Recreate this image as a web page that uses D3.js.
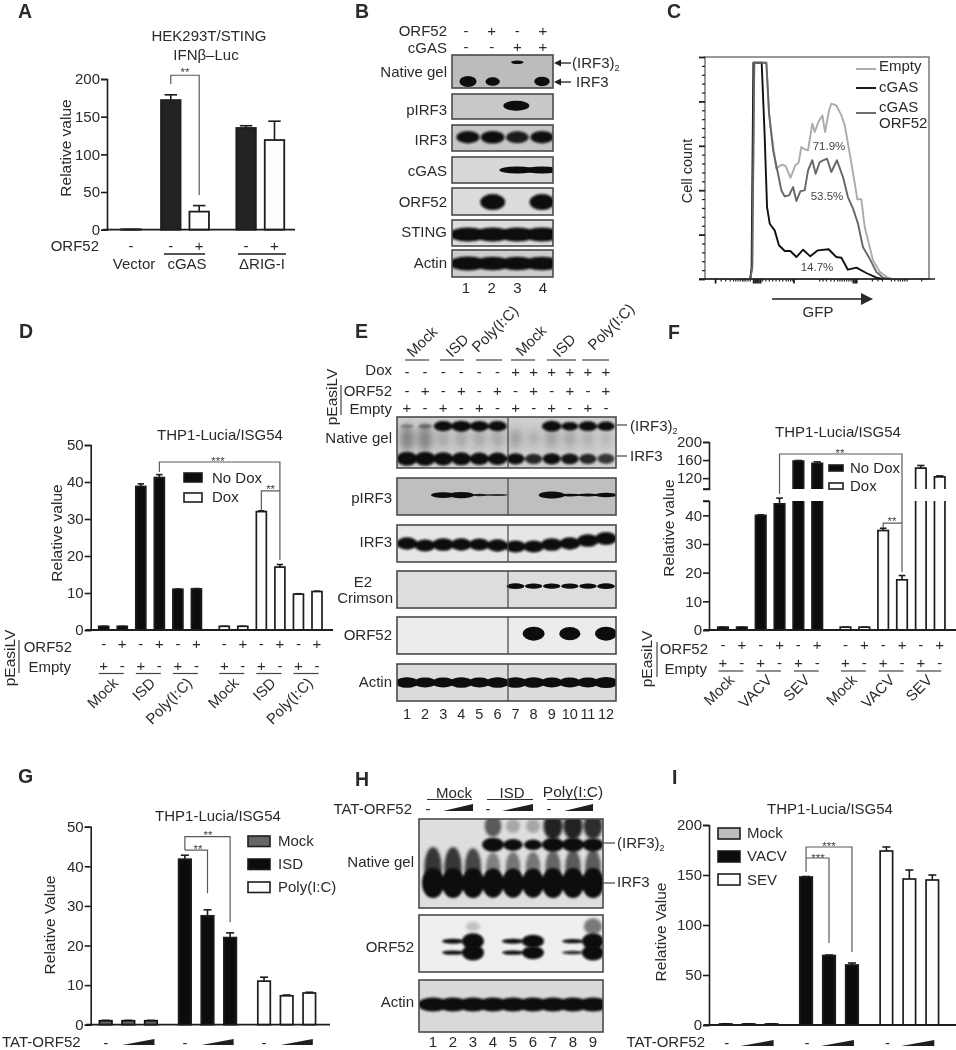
<!DOCTYPE html>
<html><head><meta charset="utf-8">
<script src="https://cdn.jsdelivr.net/npm/d3@7/dist/d3.min.js"></script>
<style>
html,body{margin:0;padding:0;background:#fff}
svg{display:block;filter:blur(0.35px)}
text{font-family:"Liberation Sans",Arial,sans-serif;fill:#2a2a2a}
</style></head><body><svg id="fig" width="956" height="1050" viewBox="0 0 956 1050"></svg>
<script>
// ---------- DATA: bar panels ----------
const aValues=[0.6,172,24,135,119];
const aErrors=[0.2,179,32,138,144];
const aFill=["k","k","w","k","w"];
const aSigns=["-","-","+","-","+"];
const aTicks=[0,50,100,150,200];

const dValues=[1,1,38.8,41.2,11,11.1,1,1,32,17,9.7,10.4];
const dErrors=[1,1,39.5,42,11.1,11.2,1,1,32.2,17.7,9.8,10.5];
const dFill=["k","k","k","k","k","k","w","w","w","w","w","w"];
const orf52Signs=["-","+","-","+","-","+","-","+","-","+","-","+"];
const emptySigns=["+","-","+","-","+","-","+","-","+","-","+","-"];
const dGroups=["Mock","ISD","Poly(I:C)","Mock","ISD","Poly(I:C)"];
const dTicks=[0,10,20,30,40,50];

const fValues=[1,1,40,44,158,153,1,1,34.7,17.5,142,123];
const fErrors=[1,1,40.2,46,159,156,1,1,35.5,19,148,125];
const fGroups=["Mock","VACV","SEV","Mock","VACV","SEV"];
const fTicksLow=[0,10,20,30,40];
const fTicksHigh=[120,160,200];

const gValues=[1,1,1,41.8,27.5,22,11,7.3,8];
const gErrors=[1.1,1.1,1.1,42.8,29,23.2,12,7.5,8.2];
const gFill=["m","m","m","k","k","k","w","w","w"];
const gLegend=["Mock","ISD","Poly(I:C)"];
const iValues=[1,1,1,148,69.5,60,174,146,145];
const iErrors=[1.2,1.2,1.2,148.5,70,62,178,155,150];
const iLegend=["Mock","VACV","SEV"];
const iTicks=[0,50,100,150,200];

// ---------- DATA: flow histogram (x: channel 0-1000, y: % of max) ----------
const cEmptyX=[202,211,220,274,286,301,318,341,360,382,403,418,430,445,460,479,490,506,524,536,554,564,586,609,624,646,664,680,698,713,728,750,780,817,839];
const cEmptyY=[0,5.4,97.4,97.4,74.5,62.5,49.7,51.5,50.9,45.6,51.2,52.4,59.5,58.4,58,70,66.2,70.7,73.7,66.2,76,79,78.2,73.7,69.2,56.5,45.9,35.9,35.9,23.4,17.4,8.4,3.2,0.6,0];
const cOrfX=[202,211,220,274,286,304,326,341,356,375,393,408,426,445,460,479,494,512,530,545,564,589,616,638,661,683,705,735,765,795,824];
const cOrfY=[0,5.4,97.4,97.4,74.5,58,47.4,39.9,37.2,37.7,41.4,35.1,39.6,39.9,48.9,53.5,47.4,52.7,53.5,54.2,48.2,53.5,45.9,36.9,31.7,24.9,14.4,9.2,3.2,0.6,0];
const cGasX=[202,208,216,253,266,277,289,311,330,356,381,408,438,470,504,552,586,609,638,676,720,765,795];
const cGasY=[0,5,97.4,97.4,65.5,32.4,24.9,21.9,15.2,12.6,12.6,9.9,13.2,10.2,12.9,13.4,9.9,9.6,4.2,5.1,2.7,0.6,0];
const cYMajor=[0,20,40,60,80,100];
const cYMinor=[4,8,12,16,24,28,32,36,44,48,52,56,64,68,72,76,84,88,92,96];
const cXMajor=[45,215,222,230,238,246,395,660,668,675];
const cXMinor=[70,90,110,125,135,145,155,165,172,180,190,200,255,270,285,300,315,330,345,360,370,380,390,510,525,540,560,575,590,600,610,620,630,640,650,745,770,790,830,845,860,870,880,890,900,965];

// ---------- DATA: blot band intensities by lane (0-1) ----------
const bLanes=[1,2,3,4];
const bNativeMono=[1,.6,0,.75], bNativeDimer=[0,0,.7,0];
const bPirf3=[0,0,1,0], bIrf3=[.9,.95,.85,.9], bCgas=[0,0,1,1], bOrf52=[0,1,0,1], bSting=[1,1,1,1], bActin=[1,.95,.9,.95];
const eLanes=[1,2,3,4,5,6,7,8,9,10,11,12];
const eDimer=[.15,.2,.85,1,.9,.85,0,0,.95,.6,.8,.7];
const eMono=[1,1,.9,.85,.8,.8,.65,.55,.65,.6,.55,.5];
const eSmear=[.55,.55,.3,.3,.3,.3,.35,.25,.35,.3,.25,.2];
const ePirf3=[0,0,.85,.9,.45,.4,0,0,1,.5,.55,.7];
const eIrf3=[.9,.85,.95,.9,.85,.9,.85,.85,.95,.9,.95,1];
const eIrf3Drift=[0,2,1,1,1,2,3,3,1,0,-3,-5];
const eE2=[0,0,0,0,0,0,1,.9,.9,.9,.9,1];
const eOrf52=[0,0,0,0,0,0,0,1,0,.9,0,1];
const eActin=[.9,.85,.85,.9,.85,.9,.9,.9,.85,.85,.85,1];
const hLanes=[1,2,3,4,5,6,7,8,9];
const hMono=[1,1,1,.95,.95,.95,1,1,1];
const hDimer=[0,0,0,1,.7,.55,1,1,.9];
const hSmear=[.9,.9,.8,.5,.55,.55,.65,.7,.7];
const hTop=[0,0,0,.6,.25,.25,.9,.9,.85];
const hOrfUpper=[0,.55,1,0,.55,.9,0,.5,1];
const hOrfLower=[0,.5,1,0,.5,.9,0,.45,1];
const hOrfFaint=[0,0,.3,0,0,0,0,0,.8];
const hActin=[1,1,1,1,1,1,1,1,1];

// ---------- helpers ----------
const svg=d3.select("#fig");
const INK="#1d1d1d", BR="#5a5a5a";
const defs=svg.append("defs");
[["b05",.5],["b1",1],["b2",1.8],["b4",4]].forEach(([id,s])=>{
  defs.append("filter").attr("id",id).attr("x","-50%").attr("y","-80%").attr("width","200%").attr("height","260%")
    .append("feGaussianBlur").attr("stdDeviation",s);
});
const T=(p,s,x,y,o={})=>{
  const t=p.append("text").attr("x",x).attr("y",y).attr("font-size",o.size||15).attr("text-anchor",o.a||"start").text(s);
  if(o.w)t.attr("font-weight",o.w); if(o.fill)t.style("fill",o.fill);
  if(o.r!==undefined)t.attr("transform",`rotate(${o.r} ${x} ${y})`);
  return t;
};
const L=(p,x1,y1,x2,y2,c=INK,w=1.5)=>p.append("line").attr("x1",x1).attr("y1",y1).attr("x2",x2).attr("y2",y2).attr("stroke",c).attr("stroke-width",w);
const rv=(p,s,x,y,size=15.5)=>T(p,s,x,y,{a:"middle",r:-90,size});
const letter=(s,x,y)=>T(svg,s,x,y,{w:"bold",size:19.5});
const Sub=(p,x,y)=>{const t=p.append("text").attr("x",x).attr("y",y).attr("font-size",15);t.append("tspan").text("(IRF3)");t.append("tspan").attr("dy",3).attr("font-size",9).text("2");};

function slots(groups,gaps){const r=[];let s=0;groups.forEach((n,g)=>{for(let i=0;i<n;i++)r.push(s+i);s+=n-1+1+(gaps[g]||0);});return r;}
const FILL={k:"#0c0c0c",w:"#fdfdfd",m:"#666",K:"#232323",M:"#bdbdbd"};

function bars(p,o){
  const g=p.append("g");
  o.values.forEach((v,i)=>{
    const cx=o.x(o.sl[i]),w=o.bw,f=FILL[o.fill[i]];
    const sw=o.sw||1.7;
    if(o.brk&&v>o.brk.low){
      const yl=o.y(o.brk.low),y0=o.y(0),yh0=o.brk.yH(o.brk.high),yh1=o.brk.yH(v);
      g.append("rect").attr("x",cx-w/2).attr("width",w).attr("y",yl).attr("height",y0-yl).attr("fill",f);
      g.append("rect").attr("x",cx-w/2).attr("width",w).attr("y",yh1).attr("height",yh0-yh1).attr("fill",f);
      g.append("path").attr("fill","none").attr("stroke",INK).attr("stroke-width",sw)
       .attr("d",`M${cx-w/2},${y0}V${yl}M${cx+w/2},${y0}V${yl}M${cx-w/2},${yh0}V${yh1}H${cx+w/2}V${yh0}`);
      const e=o.brk.yH(o.errors[i]);
      L(g,cx,yh1,cx,e,INK,1.6);L(g,cx-w*.35,e,cx+w*.35,e,INK,1.6);
    } else {
      const ev=o.errors[i],ye=o.y(ev),yv=o.y(v);
      L(g,cx,yv,cx,ye,INK,1.6);L(g,cx-w*.32,ye,cx+w*.32,ye,INK,1.6);
      g.append("rect").attr("x",cx-w/2).attr("width",w).attr("y",yv).attr("height",o.y(0)-yv)
       .attr("fill",f).attr("stroke",o.fill[i]=="m"?"#111":INK).attr("stroke-width",sw);
    }
  });
}
function yAxis(p,x,scale,ticks,size=15){
  const g=p.append("g").attr("transform",`translate(${x},0)`).call(d3.axisLeft(scale).tickValues(ticks).tickSize(6).tickPadding(1));
  g.selectAll("path,line").attr("stroke",INK).attr("stroke-width",1.6);
  g.selectAll("text").attr("font-size",size).style("font-family",'"Liberation Sans"').attr("fill",null);
  g.attr("font-family",null);
  return g;
}
function base(p,x0,x1,y){L(p,x0,y,x1,y,INK,1.8);}
function bracket(p,o,b){ // b: [left bar, right bar, top value, left-leg end, right-leg end, star position, stars]
  const [i,j,tv,lv,rv2,sv,st]=b,X=k=>o.x(o.sl[k]),Y=o.y;
  p.append("path").attr("fill","none").attr("stroke",BR).attr("stroke-width",1.2)
   .attr("d",`M${X(i)},${Y(lv)}V${Y(tv)}H${X(j)}V${Y(rv2)}`);
  T(p,st,b[7]!==undefined?b[7]:(X(i)+X(j))/2,Y(sv)+6,{a:"middle",size:11.5,fill:"#444"});
}
function legend(p,items,x,w,h,tx){ // items: [label, fill, boxTop, baseline]
  items.forEach(([s,f,yb,yt])=>{
    p.append("rect").attr("x",x).attr("y",yb).attr("width",w).attr("height",h).attr("fill",FILL[f]).attr("stroke",INK).attr("stroke-width",1.6);
    T(p,s,tx,yt);
  });
}
function wedge(p,x0,x1,yb,h){p.append("path").attr("fill","#1f1f1f").attr("d",d3.line()([[x0,yb],[x1,yb],[x1,yb-h]])+"Z");}
function signs(p,arr,xf,y){arr.forEach((s,i)=>T(p,s,xf(i),y,{a:"middle",size:15}));}

let clipN=0;
function gel(o){
  const g=svg.append("g"), id="clip"+(clipN++);
  defs.append("clipPath").attr("id",id).append("rect").attr("x",o.x0).attr("y",o.y0).attr("width",o.x1-o.x0).attr("height",o.y1-o.y0);
  g.append("rect").attr("x",o.x0).attr("y",o.y0).attr("width",o.x1-o.x0).attr("height",o.y1-o.y0).attr("fill",o.bg);
  const inner=g.append("g").attr("clip-path",`url(#${id})`).append("g");
  o.bands.forEach(b=>{
    const h=o.y1-o.y0;
    const sel=inner.append("g").attr("filter",`url(#${b.blur||"b1"})`);
    b.vals.forEach((v,i)=>{
      if(v<=0)return;
      const dx=b.dx||0,dy=b.shift?b.shift[i]:0;
      sel.append("ellipse").attr("cx",o.lane(o.lanes[i])+dx).attr("cy",o.y0+b.f*h+dy)
        .attr("rx",b.rx*(b.rp===0?1:(.6+.4*v))).attr("ry",b.ry*Math.pow(v,b.p===undefined?.5:b.p))
        .attr("fill",b.c||"#0a0a0a").attr("opacity",b.op!==undefined?Math.min(1,b.op*v):Math.min(1,v*2));
    });
  });
  (o.div?[o.div]:[]).forEach(d=>L(g,d,o.y0,d,o.y1,"#444",1.2));
  g.append("rect").attr("x",o.x0).attr("y",o.y0).attr("width",o.x1-o.x0).attr("height",o.y1-o.y0).attr("fill","none").attr("stroke","#4a4a4a").attr("stroke-width",1.6);
  T(svg,o.label,o.x0-5,o.ty,{a:"end"});
}

// ---------- Panel letters ----------
letter("A",18,18);letter("B",355,18);letter("C",667,18);letter("D",19,338);letter("E",355,338);letter("F",668,339);letter("G",18,783);letter("H",355,786);letter("I",672,784);

// ---------- Panel A ----------
{const p=svg.append("g"),sl=slots([1,2,2],[.4,.65]);
 const x=d3.scaleLinear().domain([0,sl[4]]).range([131,274.5]),y=d3.scaleLinear().domain([0,200]).range([229.7,79]);
 const o={values:aValues,errors:aErrors,fill:aFill.map(f=>f=="k"?"K":f),sl,x,y,bw:19.5,sw:1.8};
 bars(p,o);yAxis(p,107,y,aTicks);base(p,103,295,y(0));
 bracket(p,o,[1,2,205,193,46,212,"**"]);
 T(p,"HEK293T/STING",209,41,{a:"middle"});
 T(p,"IFNβ–Luc",206,60,{a:"middle"});
 rv(p,"Relative value",71,148);
 T(p,"ORF52",99,251,{a:"end"});
 signs(p,aSigns,i=>x(sl[i]),251);
 T(p,"Vector",134,269,{a:"middle"});T(p,"cGAS",187,269,{a:"middle"});T(p,"ΔRIG-I",262,269,{a:"middle"});
 L(p,164,254,205,254,INK,1.4);L(p,238,254,286,254,INK,1.4);
}
// ---------- Panel B ----------
{const lane=d3.scalePoint(bLanes,[468,542]);
 const X0=452,X1=553;
 gel({x0:X0,x1:X1,y0:55,y1:88,bg:"#bcbcbc",lane,lanes:bLanes,label:"Native gel",ty:77,bands:[
   {vals:bNativeMono,f:.8,rx:8.5,ry:5.5,blur:"b05"},{vals:bNativeDimer,f:.22,rx:7,ry:2.2,blur:"b05"}]});
 gel({x0:X0,x1:X1,y0:94,y1:119,bg:"#c8c8c8",lane,lanes:bLanes,label:"pIRF3",ty:115,bands:[{vals:bPirf3,f:.47,rx:13,ry:5,blur:"b05",dx:-1}]});
 gel({x0:X0,x1:X1,y0:125,y1:151,bg:"#c6c6c6",lane,lanes:bLanes,label:"IRF3",ty:145,bands:[{vals:bIrf3,f:.47,rx:12,ry:6.5,blur:"b1",op:1.1}]});
 gel({x0:X0,x1:X1,y0:157,y1:183,bg:"#d8d8d8",lane,lanes:bLanes,label:"cGAS",ty:176,bands:[{vals:bCgas,f:.5,rx:18,ry:3.6,blur:"b05"}]});
 gel({x0:X0,x1:X1,y0:188,y1:215,bg:"#dcdcdc",lane,lanes:bLanes,label:"ORF52",ty:207,bands:[{vals:bOrf52,f:.52,rx:12.5,ry:8,blur:"b1"}]});
 gel({x0:X0,x1:X1,y0:220,y1:246,bg:"#dcdcdc",lane,lanes:bLanes,label:"STING",ty:237,bands:[{vals:bSting,f:.56,rx:19,ry:7,blur:"b1",rp:0}]});
 gel({x0:X0,x1:X1,y0:250,y1:277,bg:"#cdcdcd",lane,lanes:bLanes,label:"Actin",ty:268,bands:[{vals:bActin,f:.5,rx:19,ry:7,blur:"b1",rp:0}]});
 const p=svg.append("g");
 const sx=d3.scalePoint(bLanes,[466,543]);
 T(p,"ORF52",447,36,{a:"end"});T(p,"cGAS",447,53,{a:"end"});
 signs(p,["-","+","-","+"],i=>sx(bLanes[i]),36);signs(p,["-","-","+","+"],i=>sx(bLanes[i]),52);
 bLanes.forEach(l=>T(p,l,sx(l),293,{a:"middle"}));
 [63,82].forEach(y=>{L(p,571,y,560,y,INK,1.3);p.append("path").attr("fill",INK).attr("d",d3.line()([[554,y],[561,y-3.5],[561,y+3.5]])+"Z");});
 Sub(p,572,68);T(p,"IRF3",576,87);
}
// ---------- Panel C ----------
{const p=svg.append("g");
 const x=d3.scaleLinear().domain([0,1000]).range([705,929]),y=d3.scaleLinear().domain([0,100]).range([279,57]);
 p.append("rect").attr("x",705).attr("y",57).attr("width",224).attr("height",222).attr("fill","none").attr("stroke","#555").attr("stroke-width",1.2);
 const line=d3.line().x(d=>x(d[0])).y(d=>y(d[1]));
 [[cEmptyX,cEmptyY,"#ababab"],[cGasX,cGasY,"#111"],[cOrfX,cOrfY,"#666"]].forEach(([xs,ys,c])=>{
   p.append("path").datum(xs.map((v,i)=>[v,ys[i]])).attr("d",line).attr("fill","none").attr("stroke",c).attr("stroke-width",1.9).attr("stroke-linejoin","round");
 });
 const ax=(g,a,vals,s,w)=>{const k=g.append("g").call(a.tickValues(vals).tickSize(s).tickFormat(""));k.select(".domain").remove();k.selectAll("line").attr("stroke",INK).attr("stroke-width",w);};
 const gy=p.append("g").attr("transform","translate(705,0)");ax(gy,d3.axisLeft(y),cYMajor,6,1.8);ax(gy,d3.axisLeft(y),cYMinor,3,1.2);
 const gx=p.append("g").attr("transform","translate(0,279)");ax(gx,d3.axisBottom(x),cXMajor,4.5,1.8);ax(gx,d3.axisBottom(x),cXMinor,2.5,1.2);
 L(p,699,279,935,279,INK,1.6);
 L(p,856,69,876,69,"#ababab",1.9);L(p,856,88,876,88,"#111",1.9);L(p,856,113,876,113,"#666",1.9);
 T(p,"Empty",879,71);T(p,"cGAS",879,92);T(p,"cGAS",879,112);T(p,"ORF52",879,128);
 T(p,"71.9%",829,150,{a:"middle",size:11.5,fill:"#444"});T(p,"53.5%",827,200,{a:"middle",size:11.5,fill:"#444"});T(p,"14.7%",817,271,{a:"middle",size:11.5,fill:"#444"});
 rv(p,"Cell count",692,171,14.5);
 L(p,772,299,862,299,"#555",1.8);p.append("path").attr("fill","#2a2a2a").attr("d",d3.line()([[873,299],[861,293],[861,305]])+"Z");
 T(p,"GFP",818,317,{a:"middle"});
}
function rotLabels(p,labels,xs,y){labels.forEach((s,i)=>T(p,s,xs[i],y,{a:"end",r:-45}));}
// ---------- Panel D ----------
{const p=svg.append("g"),sl=slots([6,6],[.5]);
 const x=d3.scaleLinear().domain([0,sl[11]]).range([103.7,317]),y=d3.scaleLinear().domain([0,50]).range([630,445]);
 const o={values:dValues,errors:dErrors,fill:dFill,sl,x,y,bw:10,sw:1.7};
 bars(p,o);yAxis(p,90.7,y,dTicks);base(p,86,333,y(0));
 bracket(p,o,[3,9,45.4,42.7,18.9,46.2,"***",218]);
 bracket(p,o,[8,9,37.6,32.4,37.6,38.6,"**"]);
 legend(p,[["No Dox","k",473,483],["Dox","w",493,502]],184,18,9,212);
 T(p,"THP1-Lucia/ISG54",220,440,{a:"middle"});
 rv(p,"Relative value",62,533);
 T(p,"ORF52",72,652,{a:"end"});T(p,"Empty",71,672,{a:"end"});
 signs(p,orf52Signs,i=>x(sl[i]),649);signs(p,emptySigns,i=>x(sl[i]),671);
 [0,2,4,6,8,10].forEach(k=>L(p,x(sl[k])-5,673.5,x(sl[k+1])+1.5,673.5,"#444",1.2));
 rv(p,"pEasiLV",15,658);L(p,19,640,19,673,"#444",1.2);
 rotLabels(p,dGroups,[0,2,4,6,8,10].map(k=>(x(sl[k])+x(sl[k+1]))/2+6),684);
}
// ---------- Panel E ----------
{const lane=d3.scalePoint(eLanes,[407,606]);const X0=397,X1=616,D=508;
 const c={x0:X0,x1:X1,lane,lanes:eLanes,div:D};
 gel({...c,y0:417,y1:468,bg:"#cfcfcf",label:"Native gel",ty:443,bands:[
   {vals:eSmear,f:.42,rx:8,ry:18,blur:"b4",op:1,c:"#333"},
   {vals:eMono,f:.82,rx:10.5,ry:7,blur:"b1",op:1.6},
   {vals:eDimer,f:.18,rx:10,ry:5.5,blur:"b1"}]});
 gel({...c,y0:478,y1:515,bg:"#bfbfbf",label:"pIRF3",ty:503,bands:[{vals:ePirf3,f:.46,rx:13,ry:3.6,p:1.4,blur:"b05"}]});
 gel({...c,y0:525,y1:562,bg:"#e6e6e6",label:"IRF3",ty:547,bands:[{vals:eIrf3,f:.5,rx:11,ry:6.5,blur:"b1",op:1.3,shift:eIrf3Drift}]});
 gel({...c,y0:571,y1:608,bg:"#dddddd",label:"",ty:603,bands:[{vals:eE2,f:.41,rx:9,ry:2.8,blur:"b05"}]});
 gel({...c,y0:617,y1:654,bg:"#ececec",label:"ORF52",ty:640,bands:[{vals:eOrf52,f:.45,rx:11,ry:7,blur:"b05"}]});
 gel({...c,y0:664,y1:701,bg:"#dcdcdc",label:"Actin",ty:687,bands:[{vals:eActin,f:.5,rx:12,ry:5.5,blur:"b05"}]});
 const p=svg.append("g");
 T(p,"E2",363,587,{a:"middle"});T(p,"Crimson",393,603,{a:"end"});
 T(p,"Dox",392,375,{a:"end"});T(p,"ORF52",392,396,{a:"end"});T(p,"Empty",392,414,{a:"end"});
 const xf=i=>lane(eLanes[i]);
 signs(p,["-","-","-","-","-","-","+","+","+","+","+","+"],xf,377);signs(p,orf52Signs,xf,396);signs(p,emptySigns,xf,413);
 eLanes.forEach(l=>T(p,l,lane(l),719,{a:"middle",size:14.5}));
 rv(p,"pEasiLV",337,397);L(p,341,385,341,415,"#444",1.2);
 [[405,429],[440,464],[476,502],[511,535],[547,576],[582,609]].forEach(([a,b])=>L(p,a,360,b,360,"#444",1.2));
 [["Mock",413,358],["ISD",452,358],["Poly(I:C)",478,353],["Mock",522,357],["ISD",559,358],["Poly(I:C)",594,351]]
   .forEach(([s,a,b])=>T(p,s,a,b,{r:-45}));
 L(p,617,425,627,425,"#444",1.2);L(p,617,456,627,456,"#444",1.2);
 Sub(p,630,431);T(p,"IRF3",630,461);
}
// ---------- Panel F ----------
{const p=svg.append("g"),sl=slots([6,6],[.5]);
 const x=d3.scaleLinear().domain([0,sl[11]]).range([723,939.7]),y=d3.scaleLinear().domain([0,45]).range([630,501]);
 const yH=d3.scaleLinear().domain([96,200]).range([489,442]);
 const o={values:fValues,errors:fErrors,fill:dFill,sl,x,y,bw:10.5,sw:1.7,brk:{low:45,high:96,yH}};
 bars(p,o);yAxis(p,709,y,fTicksLow);yAxis(p,709,yH,fTicksHigh);base(p,704,956,y(0));
 L(p,703,501,709,501,INK,1.6);L(p,703,489,709,489,INK,1.6);
 bracket(p,o,[3,9,61.4,47.4,20.2,62.4,"**",840]);
 bracket(p,o,[8,9,37.3,35.6,37.3,38.6,"**",892]);
 legend(p,[["No Dox","k",465,473],["Dox","w",483,491]],829,14,6,850);
 T(p,"THP1-Lucia/ISG54",838,437,{a:"middle"});
 rv(p,"Relative value",674,528);
 T(p,"ORF52",708,654,{a:"end"});T(p,"Empty",707,674,{a:"end"});
 signs(p,orf52Signs,i=>x(sl[i]),650);signs(p,emptySigns,i=>x(sl[i]),668);
 [0,2,4,6,8,10].forEach(k=>L(p,x(sl[k])-4.5,671,x(sl[k+1])+1.5,671,"#444",1.2));
 rv(p,"pEasiLV",652,659);L(p,657,642,657,677,"#444",1.2);
 rotLabels(p,fGroups,[0,2,4,6,8,10].map(k=>(x(sl[k])+x(sl[k+1]))/2+3),681);
}
// ---------- Panel G ----------
{const p=svg.append("g"),sl=slots([3,3,3],[.5,.5]);
 const x=d3.scaleLinear().domain([0,sl[8]]).range([105.7,309.3]),y=d3.scaleLinear().domain([0,50]).range([1024.7,826.7]);
 const o={values:gValues,errors:gErrors,fill:gFill,sl,x,y,bw:12.5,sw:1.7};
 bars(p,o);yAxis(p,90.7,y,dTicks);base(p,86,330,y(0));
 bracket(p,o,[3,5,47.5,44.1,25.9,48.4,"**",208]);
 bracket(p,o,[3,4,44.1,44.1,33.2,44.8,"**",198]);
 legend(p,[[gLegend[0],"m",836,846],[gLegend[1],"k",859,869],[gLegend[2],"w",882,892]],248,22,10.5,278);
 T(p,"THP1-Lucia/ISG54",218,821,{a:"middle"});
 rv(p,"Relative Value",55,925);
 T(p,"TAT-ORF52",2,1047);
 [0,3,6].forEach(k=>{T(p,"-",x(sl[k]),1048,{a:"middle"});wedge(p,x(sl[k+1])-6,x(sl[k+2])+3.5,1045,6);});
}
// ---------- Panel H ----------
{const lane=d3.scalePoint(hLanes,[433,593]);const X0=419,X1=603;const c={x0:X0,x1:X1,lane,lanes:hLanes};
 gel({...c,y0:819,y1:908,bg:"#dedede",label:"Native gel",ty:867,bands:[
   {vals:hTop,f:.08,rx:10,ry:14,blur:"b2",op:1},
   {vals:hSmear,f:.55,rx:9,ry:22,blur:"b2",op:1,c:"#222"},
   {vals:hMono,f:.72,rx:11,ry:15,blur:"b1"},
   {vals:hDimer,f:.29,rx:11,ry:7,blur:"b1"}]});
 gel({...c,y0:915,y1:972,bg:"#efefef",label:"ORF52",ty:952,bands:[
   {vals:hOrfFaint,f:.2,rx:10,ry:9,blur:"b2",op:.8,c:"#333"},
   {vals:hOrfUpper,f:.46,rx:11,ry:8,p:1.9,blur:"b1",rp:0},{vals:hOrfLower,f:.66,rx:11,ry:8,p:1.9,blur:"b1",rp:0}]});
 gel({...c,y0:980,y1:1032,bg:"#d9d9d9",label:"Actin",ty:1007,bands:[{vals:hActin,f:.47,rx:15,ry:7,blur:"b1",rp:0}]});
 const p=svg.append("g");
 T(p,"TAT-ORF52",412,814,{a:"end"});
 [[428,443,473],[488,502,533],[549,564,593]].forEach(([m,a,b])=>{T(p,"-",m,814,{a:"middle"});wedge(p,a,b,811,7);});
 T(p,"Mock",454,798,{a:"middle"});T(p,"ISD",512,798,{a:"middle"});T(p,"Poly(I:C)",573,797,{a:"middle",size:15.5});
 [[427,472],[487,533],[547,593]].forEach(([a,b])=>L(p,a,799.5,b,799.5,"#333",1.2));
 hLanes.forEach(l=>T(p,l,lane(l),1047,{a:"middle"}));
 L(p,603,843,615,843,"#444",1.2);L(p,603,883,615,883,"#444",1.2);
 Sub(p,617,848);T(p,"IRF3",617,887);
}
// ---------- Panel I ----------
{const p=svg.append("g"),sl=slots([3,3,3],[.5,.5]);
 const x=d3.scaleLinear().domain([0,sl[8]]).range([725.7,932.3]),y=d3.scaleLinear().domain([0,200]).range([1025,825]);
 const o={values:iValues,errors:iErrors,fill:gFill,sl,x,y,bw:12.5,sw:1.7};
 bars(p,o);yAxis(p,709,y,iTicks);base(p,704,956,y(0));
 bracket(p,o,[3,5,178,153,73,181,"***",829]);
 bracket(p,o,[3,4,167,167,82,169,"***",818]);
 legend(p,[[iLegend[0],"M",828,838],[iLegend[1],"k",851,861],[iLegend[2],"w",874,885]],718,22,11,747);
 T(p,"THP1-Lucia/ISG54",830,814,{a:"middle"});
 rv(p,"Relative Value",666,932);
 T(p,"TAT-ORF52",705,1047,{a:"end"});
 [0,3,6].forEach(k=>{T(p,"-",x(sl[k])+1,1048,{a:"middle"});wedge(p,x(sl[k+1])-8,x(sl[k+2])+2,1046,6);});
}
</script></body></html>
